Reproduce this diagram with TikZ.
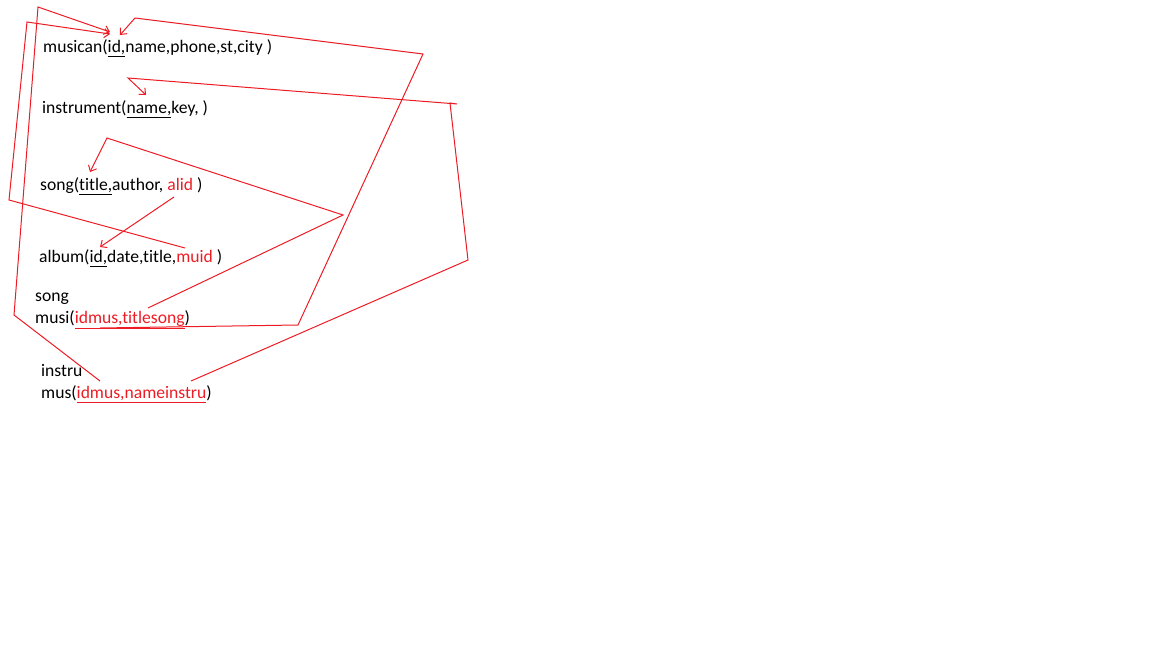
\documentclass[tikz,border=0pt]{standalone}
\usepackage{fontspec}
\setmainfont{Carlito}[Ligatures=NoCommon]
\usetikzlibrary{arrows.meta}
\definecolor{paintred}{RGB}{237,28,36}
\newcommand{\fkey}[1]{\textcolor{paintred}{#1}}

\begin{document}
\begin{tikzpicture}[x=1pt,y=-1pt,>={Straight Barb[length=5pt,width=9pt]},
  every node/.style={font=\fontsize{17.6}{22}\selectfont,inner sep=0pt,anchor=west,align=left},
  link/.style={paintred,line width=1pt}]
  \useasboundingbox (0,0) rectangle (1152,648);
  % relations
  \node (musican) at (43,48) {musican(\underline{id,}name,phone,st,city )};
  \node (instrument) at (42,109) {instrument(\underline{name,}key, )};
  \node (song) at (40,186) {song(\underline{title,}author, \fkey{alid} )};
  \node (album) at (39,258) {album(\underline{id,}date,title,\fkey{muid} )};
  \node (musi) at (35,311) {song\\musi(\fkey{\underline{idmus,titlesong}})};
  \node (mus) at (41,384) {instru\\mus(\fkey{\underline{idmus,nameinstru}})};
  % end points of the hand drawn links
  \coordinate (muid) at (185,248);
  \coordinate (alid) at (174,197);
  \coordinate (albumid) at (100,247);
  \coordinate (musicanidA) at (110,34);
  \coordinate (musicanidB) at (110,32);
  \coordinate (musicanidC) at (120,35);
  \coordinate (instrname) at (146,95);
  \coordinate (songtitle) at (90,172);
  \coordinate (musiA) at (100,328);
  \coordinate (musiB) at (148,308);
  \coordinate (musA) at (100,381);
  \coordinate (musB) at (191,381);
  % links
  \draw[link,->] (muid) -- (9,200) -- (27,22) -- (musicanidA);
  \draw[link,->] (musA) -- (14,315) -- (38,7) -- (musicanidB);
  \draw[link,->] (musiA) -- (298,325) -- (423,54) -- (135,18) -- (musicanidC);
  \draw[link,->] (musB) -- (468,260) -- (450,103) -- (457,104) -- (128,78) -- (instrname);
  \draw[link,->] (musiB) -- (343,215) -- (107,138) -- (songtitle);
  \draw[link,->] (alid) -- (albumid);
\end{tikzpicture}
\end{document}
